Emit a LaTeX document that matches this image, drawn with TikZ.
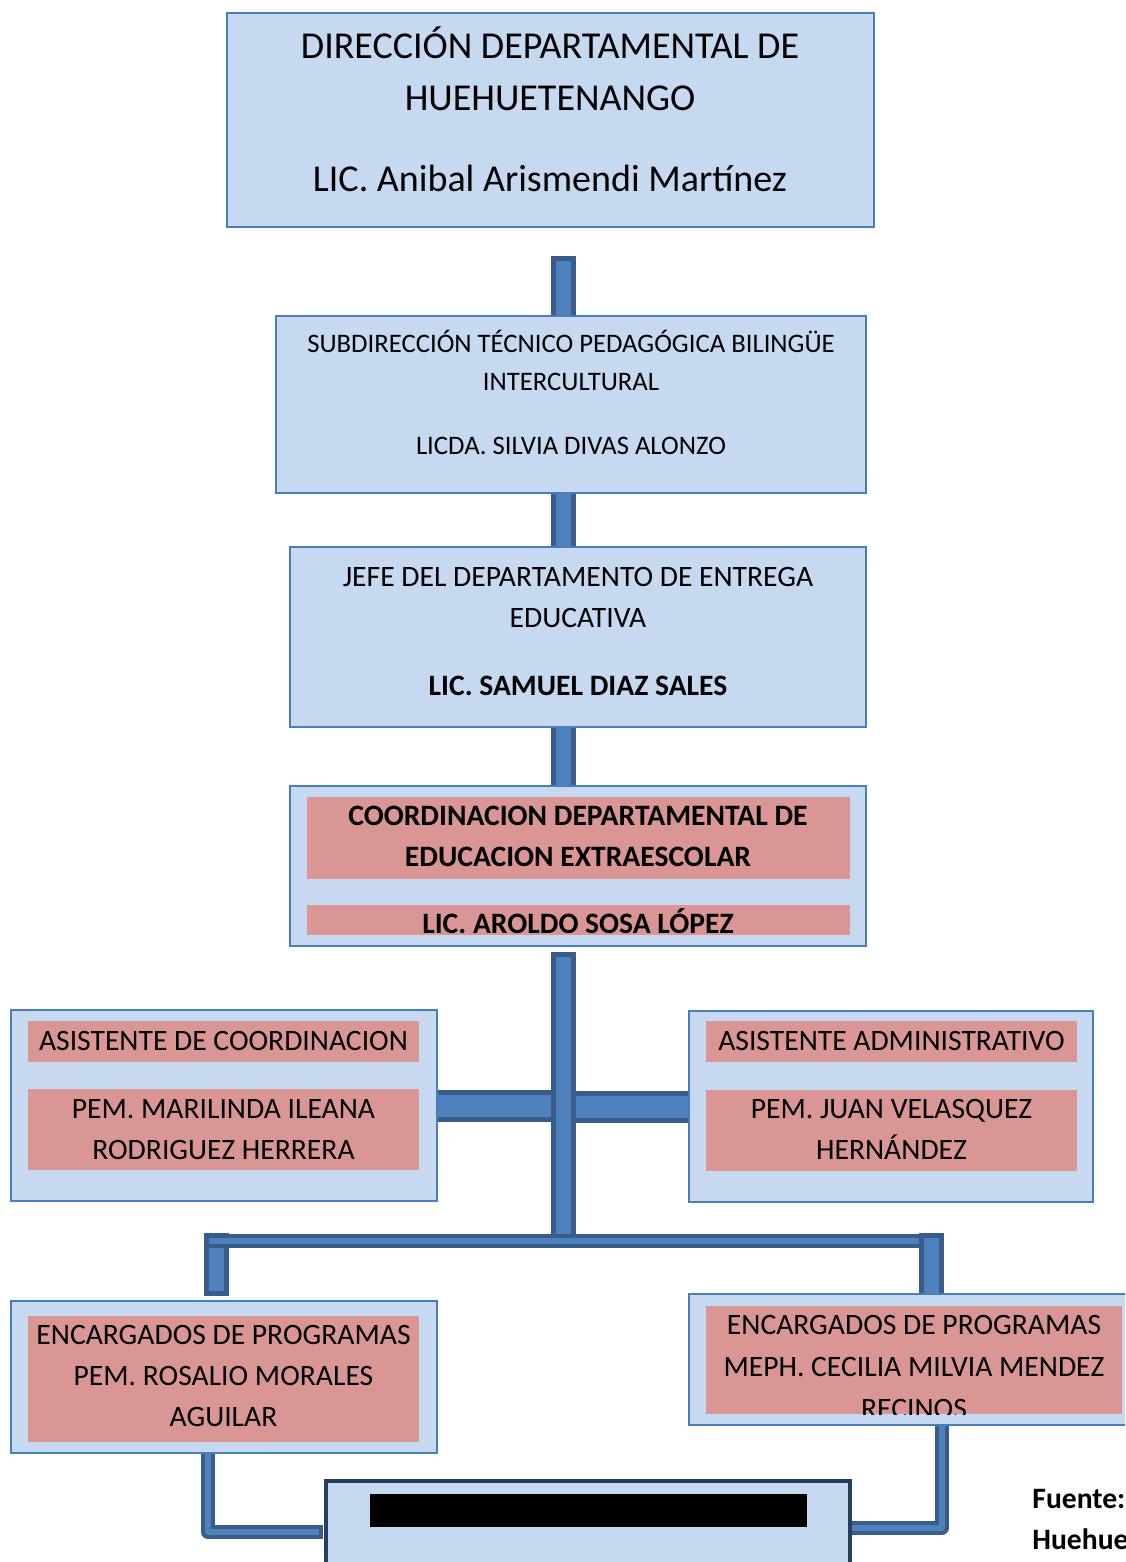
\documentclass[tikz,border=0pt]{standalone}
\usepackage{fontspec}
\setmainfont{Carlito}
\usetikzlibrary{backgrounds}

\definecolor{boxfill}{HTML}{C6D9F1}
\definecolor{boxline}{HTML}{4A7EBB}
\definecolor{tagfill}{HTML}{D99694}
\definecolor{barfill}{HTML}{4F81BD}
\definecolor{barline}{HTML}{385D8A}
\definecolor{footline}{HTML}{243F60}

\tikzset{
  box/.style={draw=boxline, fill=boxfill, line width=1.25pt, inner sep=0pt},
  tag/.style={fill=tagfill, inner sep=0pt},
  bar/.style={draw=barline, line width=2.5pt, double=barfill, double distance=7.5pt, line cap=rect},
  sidebar/.style={draw=barline, line width=2.5pt, double=barfill, double distance=11pt, line cap=butt},
  thinbar/.style={draw=barline, line width=2pt, double=barfill, double distance=3pt, line cap=rect, line join=round},
  big/.style={font=\fontsize{19}{23}\selectfont, text height=12pt, text depth=0pt, inner sep=0pt},
  mid/.style={font=\fontsize{14.8}{17.5}\selectfont, text height=9.35pt, text depth=0pt, inner sep=0pt},
  midb/.style={mid, font=\fontsize{14.8}{17.5}\selectfont\bfseries},
  small/.style={font=\fontsize{13.35}{16}\selectfont, text height=8.4pt, text depth=0pt, inner sep=0pt}
}

\begin{document}
\begin{tikzpicture}[x=0.5pt, y=-0.5pt]
  \useasboundingbox (0,0) rectangle (1125,1562);
  \clip (0,0) rectangle (1125,1562);

  \coordinate (spine) at (563,0);

  % boxes
  \node[box, minimum width=323.5pt, minimum height=107pt] (top) at (550.5,120) {};
  \node[box, minimum width=295pt, minimum height=88.5pt] (sub) at (571,404.5) {};
  \node[box, minimum width=288pt, minimum height=90pt] (jefe) at (578,637) {};
  \node[box, minimum width=288pt, minimum height=80pt] (coord) at (578,866) {};
  \node[tag, minimum width=271.5pt, minimum height=41pt] (coordA) at (578.5,838) {};
  \node[tag, minimum width=271.5pt, minimum height=15pt] (coordB) at (578.5,920) {};

  \node[box, minimum width=213pt, minimum height=95.5pt] (asisL) at (224,1105.5) {};
  \node[tag, minimum width=195.5pt, minimum height=20.5pt] (asisLA) at (223.5,1041.5) {};
  \node[tag, minimum width=195.5pt, minimum height=40.5pt] (asisLB) at (223.5,1129.5) {};
  \node[box, minimum width=202pt, minimum height=95.5pt] (asisR) at (891,1106.5) {};
  \node[tag, minimum width=185.5pt, minimum height=20.5pt] (asisRA) at (891.5,1041.5) {};
  \node[tag, minimum width=185.5pt, minimum height=40.5pt] (asisRB) at (891.5,1130.5) {};

  \node[box, minimum width=213pt, minimum height=76pt] (encL) at (224,1377) {};
  \node[tag, minimum width=195.5pt, minimum height=63pt] (encLA) at (223.5,1379) {};
  \node[box, minimum width=225.5pt, minimum height=65.5pt] (encR) at (914.5,1359.5) {};
  \node[tag, minimum width=208pt, minimum height=54pt] (encRA) at (914,1360) {};

  \node[box, draw=footline, line width=2pt, minimum width=262pt, minimum height=51pt] (foot) at (588,1532) {};
  \node[fill=black, inner sep=0pt, minimum width=218.5pt, minimum height=16.5pt] (mask) at (588.5,1510.5) {};

  % texts
  \node[big] (top1) at (550,47) {DIRECCIÓN DEPARTAMENTAL DE};
  \node[big] (top2) at (550,99) {HUEHUETENANGO};
  \node[big] (top3) at (550,180) {LIC. Anibal Arismendi Martínez};

  \node[small] (sub1) at (571,344) {SUBDIRECCIÓN TÉCNICO PEDAGÓGICA BILINGÜE};
  \node[small] (sub2) at (571,382) {INTERCULTURAL};
  \node[small] (sub3) at (571,446) {LICDA. SILVIA DIVAS ALONZO};

  \node[mid] (jefe1) at (578,577) {JEFE DEL DEPARTAMENTO DE ENTREGA};
  \node[mid] (jefe2) at (578,618) {EDUCATIVA};
  \node[midb] (jefe3) at (578,686) {LIC. SAMUEL DIAZ SALES};

  \node[midb] (coord1) at (578,816) {COORDINACION DEPARTAMENTAL DE};
  \node[midb] (coord2) at (578,857) {EDUCACION EXTRAESCOLAR};
  \node[midb] (coord3) at (578,924) {LIC. AROLDO SOSA LÓPEZ};

  \node[mid] (asisL1) at (223.5,1041) {ASISTENTE DE COORDINACION};
  \node[mid] (asisL2) at (223.5,1109) {PEM. MARILINDA ILEANA};
  \node[mid] (asisL3) at (223.5,1150) {RODRIGUEZ HERRERA};

  \node[mid] (asisR1) at (891.5,1041) {ASISTENTE ADMINISTRATIVO};
  \node[mid] (asisR2) at (891.5,1109) {PEM. JUAN VELASQUEZ};
  \node[mid] (asisR3) at (891.5,1150) {HERNÁNDEZ};

  \node[mid] (encL1) at (223.5,1335) {ENCARGADOS DE PROGRAMAS};
  \node[mid] (encL2) at (223.5,1376) {PEM. ROSALIO MORALES};
  \node[mid] (encL3) at (223.5,1417) {AGUILAR};

  \node[mid] (encR1) at (914,1325) {ENCARGADOS DE PROGRAMAS};
  \node[mid] (encR2) at (914,1367) {MEPH. CECILIA MILVIA MENDEZ};
  \begin{scope}
    \clip (encRA.north west) rectangle (encRA.south east);
    \node[mid] (encR3) at (914,1409) {RECINOS};
  \end{scope}

  \node[midb, anchor=west] (src1) at (1032,1499) {Fuente:};
  \node[midb, anchor=west] (src2) at (1032,1540) {Huehue};

  % connectors
  \coordinate (b1) at (563,268.5);
  \coordinate (dropL) at (216.5,1245.5);
  \coordinate (dropR) at (931,1245.5);
  \coordinate (hubL) at (212,1241);
  \coordinate (hubR) at (931,1241);
  \coordinate (linkL) at (208,1532);
  \coordinate (footL) at (316,1532);
  \coordinate (linkR) at (942,1527.5);

  \begin{scope}[on background layer]
    \draw[bar] (b1) -- (b1 |- sub.north);
    \draw[bar] (spine |- sub.south) -- (spine |- jefe.north);
    \draw[bar] (spine |- jefe.south) -- (spine |- coord.north);
    \draw[sidebar] (asisL.east) -- (asisL.east -| spine);
    \draw[sidebar] (asisR.west) -- (asisR.west -| spine);
    \draw[bar, shorten <=8.75pt, shorten >=6.25pt] (spine |- coord.south) -- (spine |- hubL);
    \draw[bar, shorten >=8.25pt] (dropL) -- (dropL |- encL.north);
    \draw[thinbar] (hubL) -- (hubR);
    \draw[bar] (dropR) -- (dropR |- encR.north);
    \draw[thinbar] (linkL |- encL.south) |- (footL);
    \draw[thinbar] (linkR |- encR.south) |- (linkR -| foot.east);
  \end{scope}
\end{tikzpicture}
\end{document}
